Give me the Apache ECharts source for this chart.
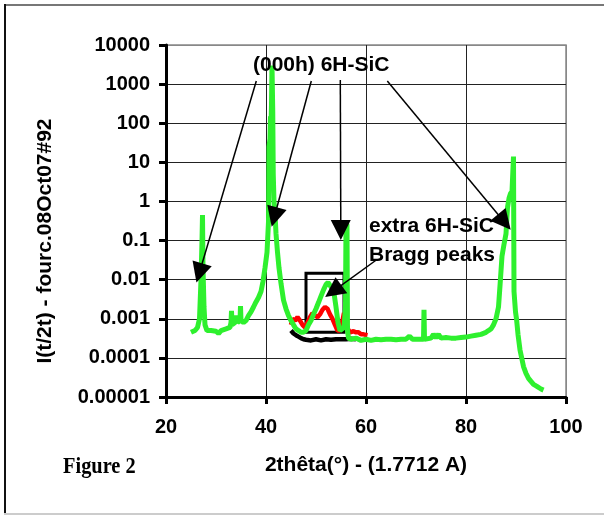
<!DOCTYPE html>
<html>
<head>
<meta charset="utf-8">
<script src="https://cdn.jsdelivr.net/npm/echarts@6/dist/echarts.min.js"></script>
<style>
  html, body { margin: 0; padding: 0; background: #fff; }
  #chart { width: 604px; height: 517px; }
</style>
</head>
<body>
<div id="chart"></div>
<script>
// tick labels of the log axis, from 1e-5 to 1e4
const yTickLabels = ['0.00001', '0.0001', '0.001', '0.01', '0.1', '1', '10', '100', '1000', '10000']

// green scan (2theta, intensity)
const greenX = [25.0, 25.3, 25.8, 26.3, 26.7, 27.0, 27.2, 27.3, 27.4, 27.6, 27.8, 28.2, 29.0, 30.0, 30.5, 31.0, 32.0, 32.8, 33.0, 33.1, 33.2, 33.8, 34.0, 34.3, 34.8, 34.9, 35.0, 35.5, 36.0, 36.5, 37.0, 37.5, 38.0, 38.5, 39.0, 39.4, 39.8, 40.2, 40.5, 40.6, 40.8, 40.9, 41.0, 41.1, 41.2, 41.35, 41.45, 41.6, 41.8, 42.0, 42.3, 42.6, 43.0, 43.5, 44.0, 44.5, 45.0, 45.5, 46.0, 46.5, 47.0, 47.5, 48.0, 48.5, 49.0, 49.5, 50.0, 50.5, 51.0, 51.5, 52.0, 52.4, 52.8, 53.2, 53.6, 54.0, 54.4, 54.8, 55.2, 55.6, 55.9, 56.0, 56.2, 56.3, 56.5, 57, 58, 59, 60, 61, 62, 63, 64, 65, 66, 67, 68, 68.7, 69.3, 70, 71, 71.5, 71.6, 71.7, 72, 73, 73.5, 74, 74.5, 75, 76, 77, 78, 79, 80, 81, 82, 83, 84, 84.5, 85, 85.5, 86, 86.5, 86.8, 87.2, 87.6, 88.0, 88.3, 88.6, 88.9, 89.2, 89.4, 89.5, 89.6, 89.9, 90.1, 90.4, 90.8, 91.5, 92.0, 92.5, 93.0, 93.5, 94.1, 94.5, 95.0, 95.5]
const greenY = [0.00045, 0.0005, 0.0005, 0.0006, 0.001, 0.01, 0.1, 0.45, 0.02, 0.002, 0.0007, 0.0005, 0.0005, 0.00048, 0.00042, 0.0005, 0.00055, 0.0006, 0.0008, 0.0016, 0.0007, 0.0008, 0.0012, 0.0008, 0.0009, 0.0021, 0.0009, 0.0008, 0.0009, 0.0012, 0.0015, 0.002, 0.0027, 0.0035, 0.005, 0.009, 0.02, 0.05, 0.3, 25, 40, 150, 80, 300, 3000, 200, 5, 1, 0.5, 0.15, 0.05, 0.02, 0.008, 0.003, 0.0018, 0.0012, 0.0009, 0.0007, 0.00055, 0.0005, 0.00045, 0.00045, 0.0005, 0.0007, 0.0009, 0.0013, 0.0018, 0.0026, 0.0038, 0.0055, 0.0075, 0.0085, 0.008, 0.006, 0.0045, 0.002, 0.0008, 0.0005, 0.0005, 0.0006, 0.002, 0.3, 0.25, 0.0005, 0.00032, 0.0003, 0.00032, 0.00028, 0.0003, 0.00028, 0.0003, 0.00029, 0.0003, 0.0003, 0.00029, 0.0003, 0.0003, 0.00036, 0.0003, 0.0003, 0.0003, 0.0003, 0.0017, 0.0003, 0.0003, 0.00032, 0.0004, 0.00033, 0.0004, 0.00032, 0.00033, 0.00032, 0.00032, 0.00033, 0.00034, 0.00036, 0.00038, 0.0004, 0.00045, 0.0005, 0.00055, 0.0007, 0.001, 0.002, 0.007, 0.04, 0.08, 0.15, 0.7, 1.2, 1.6, 1.8, 2, 14, 0.005, 0.0015, 0.001, 0.0004, 0.00016, 0.00006, 0.00004, 0.00003, 0.000025, 0.000021, 0.000019, 0.000017, 0.000016, 0.000015]

// red scan
const redX = [45.0, 45.3, 45.8, 46.3, 46.8, 47.3, 47.8, 48.3, 48.8, 49.3, 49.8, 50.3, 50.8, 51.3, 51.8, 52.3, 52.8, 53.3, 53.8, 54.3, 54.8, 55.3, 55.6, 55.9, 56.2, 56.8, 57.5, 58.0, 58.5, 59.0, 59.5, 60.3]
const redY = [0.0007, 0.001, 0.0009, 0.0011, 0.0009, 0.0007, 0.0006, 0.0008, 0.0011, 0.0014, 0.0012, 0.0011, 0.0013, 0.0017, 0.002, 0.0018, 0.0013, 0.001, 0.0007, 0.0005, 0.0005, 0.0009, 0.0014, 0.0015, 0.0006, 0.00045, 0.00048, 0.00045, 0.00045, 0.0004, 0.0004, 0.00038]

// black scan
const blackX = [45.0, 45.5, 46, 46.5, 47, 47.5, 48, 49, 50, 51, 52, 53, 54, 55, 56, 57, 58]
const blackY = [0.0005, 0.00042, 0.00038, 0.00035, 0.00032, 0.0003, 0.00029, 0.00028, 0.0003, 0.00028, 0.0003, 0.00029, 0.0003, 0.0003, 0.0003, 0.00031, 0.0003]

// annotation arrows: start -> tip, in data coords
const arrowFrom = [[38.06, 1200], [49.06, 1200], [54.86, 1270], [64.26, 1200], [62.06, 0.0318]]
const arrowTo = [[26.66, 0.0148], [41.66, 0.40], [54.96, 0.186], [87.66, 0.297], [53.46, 0.0051]]
// box around the extra peak
const boxFrom = [48.0, 0.0145]
const boxTo = [55.6, 0.00045]

const pairs = (xs, ys) => xs.map((x, i) => [x, ys[i]])

const chart = echarts.init(document.getElementById('chart'))
const font = 'Liberation Sans, Arial, sans-serif'

chart.setOption({
  animation: false,
  backgroundColor: '#fff',
  grid: { left: 166, right: 38, top: 45, bottom: 120, show: true, borderColor: '#888', borderWidth: 1.5 },
  xAxis: {
    type: 'value', min: 20, max: 100, interval: 20,
    name: '2thêta(°) - (1.7712 A)', nameLocation: 'middle', nameGap: 58,
    nameTextStyle: { fontFamily: font, fontWeight: 'bold', fontSize: 21, color: '#000' },
    axisLine: { lineStyle: { color: '#000', width: 3 } },
    axisTick: { length: 7, lineStyle: { color: '#000', width: 3 } },
    axisLabel: { margin: 20, fontFamily: font, fontWeight: 'bold', fontSize: 20, color: '#000' },
    splitLine: { show: true, lineStyle: { color: ['#222', '#222', '#222', '#222', '#888'], width: 1 } }
  },
  yAxis: {
    type: 'log', logBase: 10, min: 0.00001, max: 10000,
    axisLine: { show: true, lineStyle: { color: '#000', width: 3 } },
    axisTick: { show: true, length: 7, lineStyle: { color: '#000', width: 3 } },
    axisLabel: {
      margin: 16, fontFamily: font, fontWeight: 'bold', fontSize: 20, color: '#000',
      formatter: v => yTickLabels[Math.round(Math.log10(v)) + 5]
    },
    splitLine: { show: true, lineStyle: { color: ['#222', '#222', '#222', '#222', '#222', '#222', '#222', '#222', '#222', '#888'], width: 1 } }
  },
  series: [
    {
      type: 'line', data: pairs(blackX, blackY), showSymbol: false, z: 2,
      lineStyle: { color: '#000', width: 4.5 }
    },
    {
      type: 'line', data: pairs(redX, redY), showSymbol: false, z: 3,
      lineStyle: { color: '#ff0000', width: 4.5 }
    },
    {
      type: 'line', data: pairs(greenX, greenY), showSymbol: false, z: 4,
      lineStyle: { color: '#2ef02e', width: 5 }
    },
    {
      type: 'line', data: [[20, 1]], z: 6, silent: true, showSymbol: false,
      lineStyle: { opacity: 0 },
      markLine: {
        silent: true, animation: false,
        symbol: ['none', 'triangle'],
        symbolSize: 20,
        label: { show: false },
        itemStyle: { color: '#000' },
        lineStyle: { color: '#000', width: 1.5, type: 'solid' },
        emphasis: { disabled: true },
        data: arrowFrom.map((p, i) => [
          { coord: p, symbol: 'none' },
          { coord: arrowTo[i], symbol: 'triangle', symbolSize: 20 }
        ])
      },
      markArea: {
        silent: true,
        itemStyle: { color: 'rgba(0,0,0,0)', borderColor: '#000', borderWidth: 3 },
        emphasis: { disabled: true },
        data: [[{ coord: boxFrom }, { coord: boxTo }]]
      }
    }
  ],
  graphic: [
    { type: 'line', shape: { x1: 4, y1: 5, x2: 604, y2: 5 }, style: { stroke: '#777', lineWidth: 2 } },
    { type: 'line', shape: { x1: 5, y1: 4, x2: 5, y2: 514 }, style: { stroke: '#111', lineWidth: 2 } },
    { type: 'line', shape: { x1: 4, y1: 514, x2: 604, y2: 514 }, style: { stroke: '#ccc', lineWidth: 2 } },
    {
      type: 'text', left: 253, top: 55, z: 10,
      style: { text: '(000h) 6H-SiC', fontFamily: font, fontWeight: 'bold', fontSize: 21, fill: '#000' }
    },
    {
      type: 'text', left: 369, top: 216, z: 10,
      style: { text: 'extra 6H-SiC', fontFamily: font, fontWeight: 'bold', fontSize: 21, fill: '#000' }
    },
    {
      type: 'text', left: 369, top: 245, z: 10,
      style: { text: 'Bragg peaks', fontFamily: font, fontWeight: 'bold', fontSize: 21, fill: '#000' }
    },
    {
      type: 'text', x: 63, y: 467, scaleX: 0.85, z: 10,
      style: { text: 'Figure 2', fontFamily: 'Liberation Serif, Times New Roman, serif', fontWeight: 'bold', fontSize: 24, fill: '#000', verticalAlign: 'middle' }
    },
    {
      type: 'text', x: 45, y: 241, rotation: Math.PI / 2, z: 10,
      style: { text: 'I(t/2t) - fourc.08Oct07#92', fontFamily: font, fontWeight: 'bold', fontSize: 21, fill: '#000', align: 'center', verticalAlign: 'middle' }
    }
  ]
})
</script>
</body>
</html>
